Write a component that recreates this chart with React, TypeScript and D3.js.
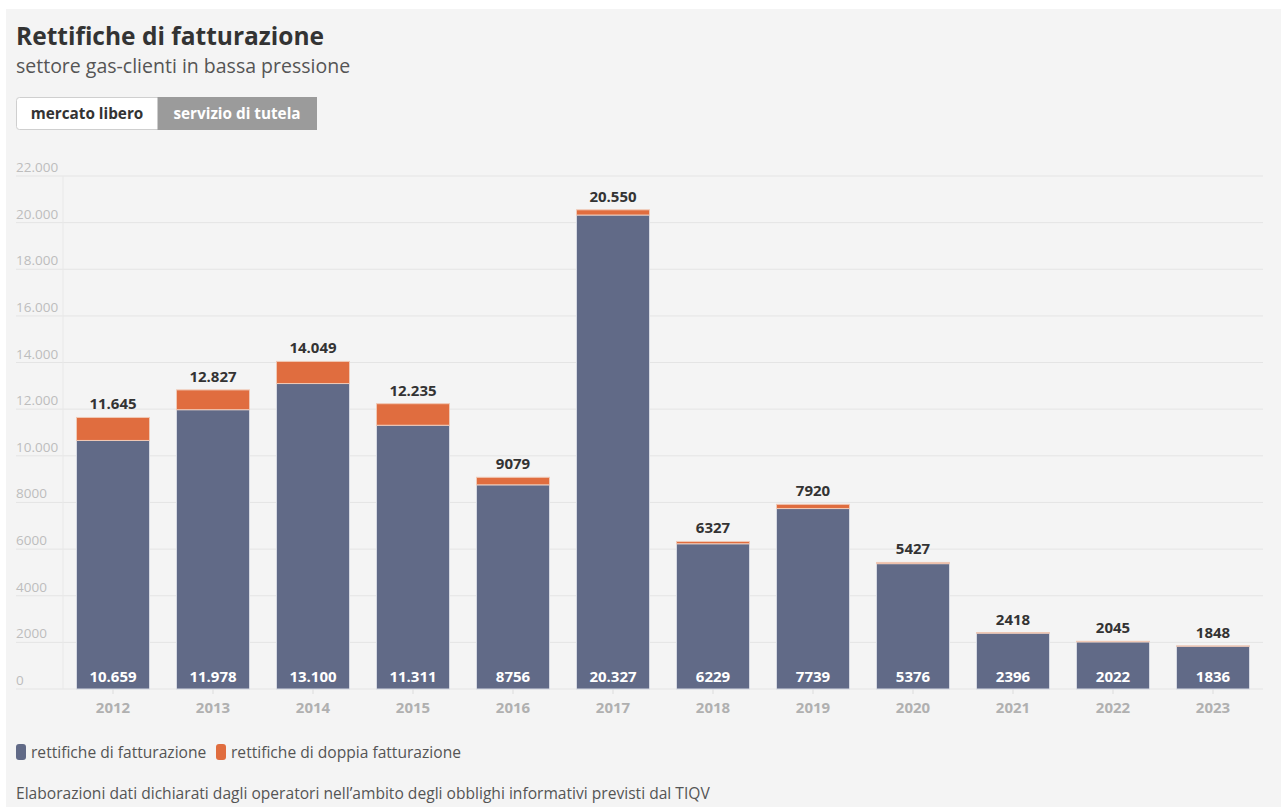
import React from "react";
import * as d3 from "d3";

const years = ["2012","2013","2014","2015","2016","2017","2018","2019","2020","2021","2022","2023"];
const fatturazione = [10659, 11978, 13100, 11311, 8756, 20327, 6229, 7739, 5376, 2396, 2022, 1836];
const totali = [11645, 12827, 14049, 12235, 9079, 20550, 6327, 7920, 5427, 2418, 2045, 1848];
const yTicks = [0, 2000, 4000, 6000, 8000, 10000, 12000, 14000, 16000, 18000, 20000, 22000];
const seriesNames = ["rettifiche di fatturazione", "rettifiche di doppia fatturazione"];
const colors = ["#616a87", "#e06d3f"];

const FONT = "'Open Sans', Lato, sans-serif";

const fmt = (v: number) => {
  if (Math.abs(v) >= 10000) return d3.format(",")(v).replace(/,/g, ".");
  return String(v);
};

export default function App() {
  React.useEffect(() => {
    document.body.style.margin = "0";
  }, []);
  const W = 1281, H = 807;
  const x = d3.scaleBand<string>().domain(years).range([63, 1263]).paddingInner(0.27).paddingOuter(0.135);
  const y = d3.scaleLinear().domain([0, 22000]).range([689, 176]);
  const bw = x.bandwidth();
  return (
    <svg width={W} height={H} style={{ display: "block", fontFamily: FONT }}>
      <rect x={0} y={0} width={W} height={H} fill="#ffffff" />
      <rect x={6} y={9} width={W - 6} height={H - 9} fill="#f4f4f4" />
      <text x={16} y={45} fontSize={24.5} fontWeight={700} fill="#333">Rettifiche di fatturazione</text>
      <text x={16} y={73} fontSize={19.5} fill="#555">settore gas-clienti in bassa pressione</text>
      <g>
        <rect x={16.5} y={97.5} width={300} height={32} rx={3} fill="#ffffff" stroke="#cfcfcf" />
        <rect x={158} y={97.5} width={158.5} height={32} rx={0} fill="#9b9b9b" stroke="#9b9b9b" />
        <text x={87} y={119} textAnchor="middle" fontSize={15.3} fontWeight={700} fill="#333">mercato libero</text>
        <text x={237} y={119} textAnchor="middle" fontSize={15.3} fontWeight={700} fill="#ffffff">servizio di tutela</text>
      </g>
      <g>
        {yTicks.map((t) => (
          <g key={t}>
            <line x1={16} x2={1263} y1={y(t)} y2={y(t)} stroke="#e4e4e4" strokeWidth={1} />
            <text x={16} y={y(t) - 4} fontSize={13.5} fill="#bdbdbd">{fmt(t)}</text>
          </g>
        ))}
        <line x1={63} x2={63} y1={y(22000)} y2={y(0)} stroke="#e8e8e8" />
      </g>
      <g>
        {years.map((yr) => {
          const cx = (x(yr) as number) + bw / 2;
          return (
            <g key={yr}>
              <line x1={cx} x2={cx} y1={y(0)} y2={y(0) + 5} stroke="#dcdcdc" />
              <text x={cx} y={713} textAnchor="middle" fontSize={15} fontWeight={700} fill="#b0b0b0">{yr}</text>
            </g>
          );
        })}
      </g>
      <g>
        {years.map((yr, i) => {
          const x0 = x(yr) as number;
          const cx = x0 + bw / 2;
          return (
            <g key={yr}>
              <rect x={x0} y={y(fatturazione[i])} width={bw} height={y(0) - y(fatturazione[i])}
                fill={colors[0]} stroke="#d6d9e2" strokeWidth={1} />
              <rect x={x0} y={y(totali[i])} width={bw} height={y(fatturazione[i]) - y(totali[i])}
                fill={colors[1]} stroke="#f0c9b6" strokeWidth={1} />
              <text x={cx} y={y(0) - 7} textAnchor="middle" fontSize={15} fontWeight={700} fill="#ffffff">{fmt(fatturazione[i])}</text>
              <text x={cx} y={y(totali[i]) - 8} textAnchor="middle" fontSize={15} fontWeight={700} fill="#333">{fmt(totali[i])}</text>
            </g>
          );
        })}
      </g>
      <g>
        <rect x={16} y={744} width={10} height={16} rx={3} fill={colors[0]} />
        <text x={31} y={758} fontSize={15.6} fill="#555">{seriesNames[0]}</text>
        <rect x={216} y={744} width={10} height={16} rx={3} fill={colors[1]} />
        <text x={231} y={758} fontSize={15.6} fill="#555">{seriesNames[1]}</text>
      </g>
      <text x={16} y={799} fontSize={15.6} fill="#555">Elaborazioni dati dichiarati dagli operatori nell’ambito degli obblighi informativi previsti dal TIQV</text>
    </svg>
  );
}
